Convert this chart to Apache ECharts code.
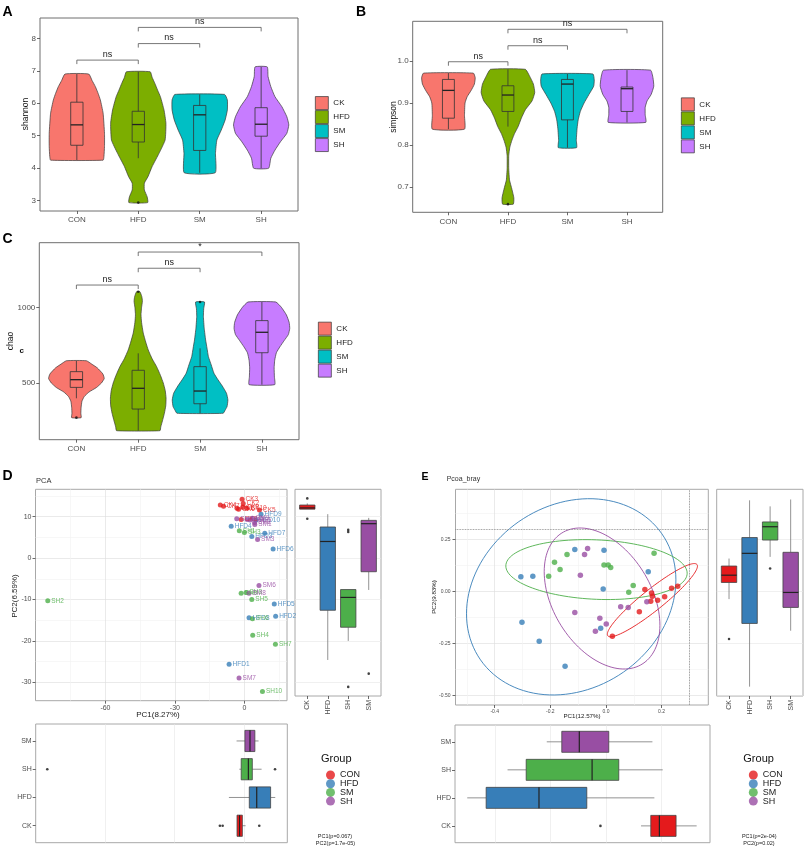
<!DOCTYPE html>
<html><head><meta charset="utf-8">
<script src="https://cdn.jsdelivr.net/npm/echarts@6/dist/echarts.min.js"></script>
<style>html,body{margin:0;padding:0;background:#fff}#c{width:805px;height:849px}</style>
</head><body><div id="c"></div>
<script>
const FONT = 'Liberation Sans, Arial, Helvetica, sans-serif';

// ---------- Panels A-C (violins) ----------
const violinCats = ['CON', 'HFD', 'SM', 'SH'];
const violinLegend = ['CK', 'HFD', 'SM', 'SH'];
const violinColors = ['#F8766D', '#7CAE00', '#00BFC4', '#C77CFF'];

// profiles: [value, relative half-width]
const shannonViolin = [
  [[6.90,0.43],[6.70,0.55],[6.51,0.67],[6.30,0.77],[6.10,0.85],[5.69,0.95],[5.07,1.0],[4.66,1.0],[4.35,0.98],[4.24,0.95]],
  [[6.97,0.43],[6.80,0.5],[6.61,0.6],[6.40,0.7],[6.20,0.8],[5.79,0.93],[5.38,1.0],[4.86,0.97],[4.45,0.75],[4.04,0.5],[3.73,0.35],[3.53,0.22],[3.32,0.22],[3.11,0.32],[2.93,0.34]],
  [[6.27,0.9],[6.10,1.0],[5.79,1.0],[5.48,0.92],[5.17,0.78],[4.86,0.62],[4.45,0.57],[3.85,0.56]],
  [[7.12,0.22],[6.82,0.25],[6.51,0.35],[6.20,0.5],[5.89,0.75],[5.58,0.93],[5.33,1.0],[5.07,0.93],[4.81,0.7],[4.55,0.5],[4.30,0.35],[3.99,0.27]]
];
const shannonBox = [[4.24,4.70,5.33,6.03,6.90],[4.30,4.80,5.34,5.75,6.97],[3.85,4.54,5.64,5.93,6.27],[3.99,4.98,5.35,5.86,7.12]];
const shannonOutliers = [[2, 2.93]];
const shannonSig = [[1,2,7.33,'ns'],[2,3,7.84,'ns'],[2,4,8.34,'ns']];
const shannonTicks = [3,4,5,6,7,8];

const simpsonViolin = [
  [[0.971,0.93],[0.960,1.0],[0.945,0.97],[0.930,0.85],[0.915,0.7],[0.900,0.62],[0.870,0.6],[0.838,0.6]],
  [[0.980,0.65],[0.965,0.8],[0.945,0.95],[0.925,1.0],[0.905,0.9],[0.884,0.65],[0.864,0.5],[0.844,0.38],[0.828,0.25],[0.812,0.15],[0.795,0.07],[0.775,0.03],[0.745,0.03],[0.717,0.06],[0.695,0.15],[0.675,0.22],[0.660,0.2]],
  [[0.969,0.95],[0.955,1.0],[0.940,0.98],[0.920,0.8],[0.900,0.62],[0.880,0.48],[0.860,0.4],[0.840,0.36],[0.812,0.33],[0.794,0.34]],
  [[0.978,0.88],[0.960,0.97],[0.940,1.0],[0.920,0.9],[0.905,0.75],[0.890,0.68],[0.872,0.68],[0.854,0.7]]
];
const simpsonBox = [[0.838,0.864,0.930,0.956,0.971],[0.844,0.880,0.919,0.941,0.980],[0.794,0.860,0.945,0.956,0.969],[0.854,0.880,0.934,0.938,0.978]];
const simpsonOutliers = [[2, 0.660]];
const simpsonSig = [[1,2,0.998,'ns'],[2,3,1.036,'ns'],[2,4,1.075,'ns']];
const simpsonTicks = [0.7,0.8,0.9,1.0];

const chaoViolin = [
  [[647,0.36],[625,0.55],[600,0.75],[560,0.95],[530,1.0],[500,0.9],[470,0.72],[440,0.45],[410,0.28],[380,0.2],[340,0.17],[300,0.16],[271,0.17]],
  [[1103,0.06],[1070,0.13],[1040,0.15],[1000,0.12],[950,0.1],[900,0.12],[830,0.18],[770,0.27],[718,0.36],[660,0.5],[608,0.66],[550,0.8],[500,0.9],[450,0.97],[400,1.0],[350,0.99],[300,0.94],[250,0.87],[210,0.81],[185,0.78]],
  [[1035,0.16],[990,0.13],[938,0.12],[860,0.15],[784,0.2],[730,0.25],[674,0.3],[620,0.4],[564,0.5],[520,0.65],[480,0.8],[432,0.95],[388,1.0],[344,0.97],[320,0.9],[300,0.83]],
  [[1035,0.5],[1000,0.7],[950,0.88],[900,0.98],[860,1.0],[820,0.95],[780,0.8],[740,0.65],[700,0.52],[650,0.46],[600,0.44],[540,0.45],[489,0.46]]
];
const chaoBox = [[399,471,522,575,647],[185,328,465,584,696],[300,363,447,608,729],[489,700,835,912,1035]];
const chaoOutliers = [[1,271],[2,1103],[3,1035]];
const chaoSig = [[1,2,1147,'ns'],[2,3,1258,'ns'],[2,4,1365,'*']];
const chaoTicks = [500,1000];

// ---------- Panel D (PCA) ----------
const groupNames = ['CON','HFD','SM','SH'];
const groupColors = ['#E41A1C','#377EB8','#4DAF4A','#984EA3'];
const pcaCON = [[-0.7,12.3,'CK9'],[-1.0,14.2,'CK3'],[-0.5,13.2,'CK2'],[-10.4,12.8,'CK4'],[-9.0,12.5,'CK7'],[-3.2,12.0,'CK1'],[-2.5,11.8,'CK6'],[1.1,12.0,'CK10'],[6.5,11.6,'CK5'],[-1.4,9.3,'CK8']];
const pcaHFD = [[7.2,10.6,'HFD9'],[-5.7,7.7,'HFD4'],[8.8,6.0,'HFD7'],[3.2,5.2,'HFD3'],[12.4,2.2,'HFD6'],[12.9,-11.1,'HFD5'],[13.5,-14.0,'HFD2'],[2.0,-14.4,'HFD8'],[-6.6,-25.6,'HFD1'],[5.0,9.2,'HFD10']];
const pcaSM = [[-84.9,-10.3,'SH2'],[3.6,-18.6,'SH4'],[3.2,-10.0,'SH5'],[13.4,-20.8,'SH7'],[7.8,-32.2,'SH10'],[3.5,-14.6,'SH6'],[-1.4,-8.5,'SH9'],[0.7,-8.3,'SH8'],[-2.2,6.6,'SH1'],[0.0,6.2,'SH3']];
const pcaSH = [[6.3,-6.6,'SM6'],[-2.3,-28.9,'SM7'],[5.7,4.5,'SM3'],[2.0,-8.5,'SM8'],[4.5,8.1,'SM1'],[4.4,8.6,'SM2'],[-3.3,9.5,'SM4'],[1.2,9.3,'SM5'],[3.4,9.6,'SM9'],[2.5,9.2,'SM10']];
const pcaXTicks = [-60,-30,0], pcaXMinor = [-75,-45,-15,15];
const pcaYTicks = [-30,-20,-10,0,10], pcaYMinor = [-25,-15,-5,5,15];

const boxCats = ['CK','HFD','SH','SM'];
const boxColors = ['#E41A1C','#377EB8','#4DAF4A','#984EA3'];
const pcaRightBox = [[11.8,11.8,12.1,12.8,13.2],[-24.6,-12.6,4.0,7.5,10.6],[-20.0,-16.7,-9.5,-7.6,-7.6],[-7.7,-3.3,8.3,9.1,9.7]];
const pcaRightOut = [[1,14.4],[1,9.5],[3,6.8],[3,6.3],[3,-31.1],[4,-27.9]];
const pcaBottomBox = [[-3.0,-3.0,-1.9,-0.7,0.7],[-6.5,2.3,5.5,11.5,13.5],[-2.0,-1.2,1.9,3.6,7.6],[-3.2,0.4,2.6,4.7,6.3]];
const pcaBottomOut = [[-10.4,1],[-9.2,1],[6.6,1],[-84.9,3],[13.4,3]];

// ---------- Panel E (PCoA) ----------
const pcoaCON = [[0.140,0.008],[0.164,-0.008],[0.167,-0.024],[0.161,-0.048],[0.186,-0.043],[0.211,-0.027],[0.236,0.014],[0.258,0.024],[0.120,-0.099],[0.023,-0.216]];
const pcoaHFD = [[-0.306,0.069],[-0.263,0.072],[-0.112,0.200],[-0.007,0.197],[-0.010,0.011],[0.152,0.094],[-0.302,-0.149],[-0.240,-0.240],[-0.147,-0.361],[-0.019,-0.178]];
const pcoaSM = [[-0.140,0.176],[-0.185,0.139],[-0.165,0.104],[-0.206,0.072],[-0.007,0.126],[0.008,0.126],[0.017,0.114],[0.173,0.182],[0.098,0.027],[0.082,-0.005]];
const pcoaSH = [[-0.066,0.205],[-0.077,0.176],[-0.092,0.077],[-0.112,-0.102],[0.053,-0.075],[0.080,-0.078],[0.147,-0.051],[-0.022,-0.130],[0.001,-0.158],[-0.038,-0.193]];
// ellipse: [cx, cy, half-extent x, half-extent y, correlation]
const pcoaEllipses = [[0.167,-0.043,0.162,0.176,0.93],[-0.125,-0.027,0.3765,0.4718,0.173],[-0.034,0.104,0.326,0.144,-0.122],[-0.014,-0.035,0.208,0.339,-0.38]];
const pcoaRefLines = {x:0.297, y:0.301};
const pcoaXTicks = [-0.4,-0.2,0,0.2], pcoaXMinor = [-0.5,-0.3,-0.1,0.1,0.3];
const pcoaYTicks = [-0.5,-0.25,0,0.25], pcoaYMinor = [-0.375,-0.125,0.125,0.375];
const pcoaRightBox = [[-0.038,0.042,0.077,0.121,0.157],[-0.459,-0.155,0.182,0.258,0.437],[0.165,0.246,0.310,0.333,0.408],[-0.190,-0.078,-0.006,0.187,0.441]];
const pcoaRightOut = [[1,-0.230],[3,0.109]];
const pcoaBottomBox = [[0.126,0.161,0.192,0.252,0.326],[-0.499,-0.431,-0.241,-0.069,0.174],[-0.354,-0.287,-0.050,0.046,0.204],[-0.213,-0.159,-0.096,0.010,0.167]];
const pcoaBottomOut = [[-0.020,1]];

// ---------- layout ----------
const grids = [
  {left:40, top:18, width:258, height:193},
  {left:412.7, top:21.3, width:250, height:191},
  {left:39.3, top:242.7, width:259.7, height:197},
  {left:35.5, top:489.3, width:251.5, height:211.4},
  {left:295, top:489.3, width:86, height:206.7},
  {left:35.7, top:724, width:251.6, height:118.7},
  {left:455.5, top:489.3, width:252.8, height:215.7},
  {left:716.7, top:489.3, width:86.3, height:206.7},
  {left:455, top:725, width:255, height:117.7}
].map((g,i)=>Object.assign({show:true, backgroundColor:'#fff', borderColor: i<3 ? '#6e6e6e' : '#a8a8a8', borderWidth:1, containLabel:false}, g));

function axis(o) {
  return {
    type:'value', gridIndex:o.g, min:o.min, max:o.max, show:true,
    position:o.pos,
    axisLine:{show:false, onZero:false},
    axisTick:{show:o.tick!==false, length:3, lineStyle:{color:'#444', width:0.8}, customValues:o.ticks},
    axisLabel:{show:o.label!==false, customValues:o.ticks, formatter:o.fmt || (v=>String(v)), fontSize:o.fs||8, color:'#4d4d4d',
               margin:o.margin==null?4:o.margin, fontFamily:FONT, rotate:o.rotate||0},
    splitLine:{show:!!o.split, lineStyle:{color:o.splitColor||'#e3e3e3', width:0.6}}
  };
}
const catFmt = arr => v => arr[Math.round(v)-1];
const cat4 = [1,2,3,4];

const xAxes = [
  axis({g:0, min:0.4, max:4.6, ticks:cat4, fmt:catFmt(violinCats), margin:5}),
  axis({g:1, min:0.4, max:4.6, ticks:cat4, fmt:catFmt(violinCats), margin:5}),
  axis({g:2, min:0.4, max:4.6, ticks:cat4, fmt:catFmt(violinCats), margin:5}),
  axis({g:3, min:-90.2, max:18.4, ticks:pcaXTicks, fs:7, margin:4, split:true, splitColor:'#dcdcdc'}),
  axis({g:4, min:0.4, max:4.6, ticks:cat4, fmt:catFmt(boxCats), fs:7, rotate:90, margin:4}),
  axis({g:5, min:-89.9, max:18.7, ticks:pcaXTicks, label:false, tick:false, split:true, splitColor:'#e6e6e6'}),
  axis({g:6, min:-0.541, max:0.368, ticks:pcoaXTicks, fs:5, margin:4, fmt:v=>v.toFixed(1), split:true, splitColor:'#dcdcdc'}),
  axis({g:7, min:0.4, max:4.6, ticks:cat4, fmt:catFmt(boxCats), fs:7, rotate:90, margin:4}),
  axis({g:8, min:-0.543, max:0.374, ticks:pcoaXTicks, label:false, tick:false, split:true, splitColor:'#e6e6e6'}),
  axis({g:3, min:-90.2, max:18.4, ticks:pcaXMinor, label:false, tick:false, split:true, splitColor:'#f1f1f1', pos:'top'}),
  axis({g:6, min:-0.541, max:0.368, ticks:pcoaXMinor, label:false, tick:false, split:true, splitColor:'#f1f1f1', pos:'top'})
];
const yAxes = [
  axis({g:0, min:2.67, max:8.63, ticks:shannonTicks, margin:4}),
  axis({g:1, min:0.6406, max:1.094, ticks:simpsonTicks, fmt:v=>v.toFixed(1), margin:4}),
  axis({g:2, min:125.5, max:1426.7, ticks:chaoTicks, margin:4}),
  axis({g:3, min:-34.4, max:16.6, ticks:pcaYTicks, fs:7, margin:4, split:true, splitColor:'#dcdcdc'}),
  axis({g:4, min:-33.3, max:16.6, ticks:pcaYTicks, label:false, tick:false, split:true, splitColor:'#e6e6e6'}),
  axis({g:5, min:0.4, max:4.6, ticks:cat4, fmt:catFmt(boxCats), fs:7, margin:4}),
  axis({g:6, min:-0.547, max:0.49, ticks:pcoaYTicks, fs:5, margin:5, fmt:v=>v.toFixed(2), split:true, splitColor:'#dcdcdc'}),
  axis({g:7, min:-0.504, max:0.49, ticks:pcoaYTicks, label:false, tick:false, split:true, splitColor:'#e6e6e6'}),
  axis({g:8, min:0.4, max:4.6, ticks:cat4, fmt:catFmt(boxCats), fs:7, margin:4}),
  axis({g:3, min:-34.4, max:16.6, ticks:pcaYMinor, label:false, tick:false, split:true, splitColor:'#f1f1f1', pos:'right'}),
  axis({g:6, min:-0.547, max:0.49, ticks:pcoaYMinor, label:false, tick:false, split:true, splitColor:'#f1f1f1', pos:'right'})
];

const series = [];

function boxSeries(ax, rows, horiz, hw, colors, st) {
  return {
    type:'custom', xAxisIndex:ax, yAxisIndex:ax, z:4, silent:true, clip:false,
    data: rows.map((r,i)=>[i+1].concat(r)),
    encode: horiz ? {x:[1,2,3,4,5], y:0} : {x:0, y:[1,2,3,4,5]},
    renderItem:(p, api) => {
      const pos=api.value(0), lo=api.value(1), q1=api.value(2), med=api.value(3), q3=api.value(4), hi=api.value(5);
      const c = (a,v) => horiz ? api.coord([v,a]) : api.coord([a,v]);
      const p1=c(pos-hw,q1), p2=c(pos+hw,q3);
      const m1=c(pos-hw,med), m2=c(pos+hw,med);
      const a1=c(pos,q3), a2=c(pos,hi), b1=c(pos,q1), b2=c(pos,lo);
      return {type:'group', children:[
        {type:'line', shape:{x1:a1[0],y1:a1[1],x2:a2[0],y2:a2[1]}, style:{stroke:st.whisker, lineWidth:st.lw}},
        {type:'line', shape:{x1:b1[0],y1:b1[1],x2:b2[0],y2:b2[1]}, style:{stroke:st.whisker, lineWidth:st.lw}},
        {type:'rect', shape:{x:Math.min(p1[0],p2[0]), y:Math.min(p1[1],p2[1]), width:Math.abs(p1[0]-p2[0]), height:Math.abs(p1[1]-p2[1])},
         style:{fill:colors?colors[p.dataIndex]:'rgba(0,0,0,0)', stroke:st.stroke, lineWidth:st.lw}},
        {type:'line', shape:{x1:m1[0],y1:m1[1],x2:m2[0],y2:m2[1]}, style:{stroke:st.med, lineWidth:st.mlw}}
      ]};
    }
  };
}
function outlierSeries(ax, pts, size) {
  return {type:'scatter', xAxisIndex:ax, yAxisIndex:ax, data:pts, symbolSize:size||2.6, silent:true, z:5,
          itemStyle:{color:'#111'}};
}
function sigSeries(ax, sig, fs) {
  return {
    type:'custom', xAxisIndex:ax, yAxisIndex:ax, silent:true, z:5, clip:false,
    data: sig.map(s=>[s[0], s[1], s[2]]), encode:{x:[0,1], y:2},
    renderItem:(p, api) => {
      const s = sig[p.dataIndex];
      const a = api.coord([s[0], s[2]]), b = api.coord([s[1], s[2]]);
      return {type:'group', children:[
        {type:'polyline', shape:{points:[[a[0],a[1]+4],a,b,[b[0],b[1]+4]]}, style:{stroke:'#555', lineWidth:0.8, fill:null}},
        {type:'text', x:(a[0]+b[0])/2, y:a[1]-1.2, style:{text:s[3], fontSize:fs, fill:'#222', align:'center', verticalAlign:'bottom', fontFamily:FONT}}
      ]};
    }
  };
}
function violinPanel(ax, profiles, boxes, outs, sig) {
  profiles.forEach((prof, i) => {
    series.push({
      type:'custom', name:'V-'+violinLegend[i], xAxisIndex:ax, yAxisIndex:ax, z:2, silent:true, clip:false,
      itemStyle:{color:violinColors[i]},
      data:[[i+1, prof[0][0]]], encode:{x:0, y:1},
      renderItem:(p, api) => {
        const pos=i+1, pts=[];
        prof.forEach(([v,w]) => pts.push(api.coord([pos+w*0.45, v])));
        for (let k=prof.length-1; k>=0; k--) pts.push(api.coord([pos-prof[k][1]*0.45, prof[k][0]]));
        return {type:'polygon', shape:{points:pts, smooth:0.15}, style:{fill:violinColors[i], stroke:'#3a3a3a', lineWidth:0.7}};
      }
    });
  });
  series.push(boxSeries(ax, boxes, false, 0.1, null, {whisker:'#333', stroke:'#333', med:'#222', lw:0.8, mlw:1.3}));
  series.push(outlierSeries(ax, outs, 2.6));
  series.push(sigSeries(ax, sig, 9));
}
violinPanel(0, shannonViolin, shannonBox, shannonOutliers, shannonSig);
violinPanel(1, simpsonViolin, simpsonBox, simpsonOutliers, simpsonSig);
violinPanel(2, chaoViolin, chaoBox, chaoOutliers, chaoSig);

// PCA scatter
[pcaCON, pcaHFD, pcaSM, pcaSH].forEach((arr, i) => {
  series.push({
    type:'scatter', name:'P-'+groupNames[i], xAxisIndex:3, yAxisIndex:3, symbolSize:5, z:3,
    itemStyle:{color:groupColors[i]},
    data: arr.map(d => ({value:[d[0], d[1]], name:d[2]})),
    label:{show:true, position:'right', distance:1, formatter:'{b}', fontSize:6.5, color:groupColors[i], fontFamily:FONT}
  });
});
const boxStyleP = {whisker:'#777', stroke:'#444', med:'#222', lw:0.8, mlw:1.2};
series.push(boxSeries(4, pcaRightBox, false, 0.375, boxColors, boxStyleP));
series.push(outlierSeries(4, pcaRightOut, 2.6));
series.push(boxSeries(5, pcaBottomBox, true, 0.375, boxColors, boxStyleP));
series.push(outlierSeries(5, pcaBottomOut, 2.6));

// PCoA
[pcoaCON, pcoaHFD, pcoaSM, pcoaSH].forEach((arr, i) => {
  const s = {
    type:'scatter', name:'P-'+groupNames[i], xAxisIndex:6, yAxisIndex:6, symbolSize:5.5, z:3,
    itemStyle:{color:groupColors[i]}, data:arr
  };
  if (i === 0) s.markLine = {silent:true, symbol:'none', label:{show:false}, animation:false,
    lineStyle:{type:'dotted', color:'#777', width:0.8}, data:[{yAxis:pcoaRefLines.y},{xAxis:pcoaRefLines.x}]};
  series.push(s);
});
series.push({
  type:'custom', xAxisIndex:6, yAxisIndex:6, silent:true, z:2, clip:true,
  data: pcoaEllipses.map(e=>[e[0], e[1]]), encode:{x:0, y:1},
  renderItem:(p, api) => {
    const [cx, cy, rx, ry, r] = pcoaEllipses[p.dataIndex];
    const pts = [];
    for (let k=0; k<=120; k++) {
      const t = 2*Math.PI*k/120;
      pts.push(api.coord([cx + rx*Math.cos(t), cy + ry*(r*Math.cos(t) + Math.sqrt(1-r*r)*Math.sin(t))]));
    }
    return {type:'polyline', shape:{points:pts}, style:{fill:null, stroke:groupColors[p.dataIndex], lineWidth:0.9}};
  }
});
series.push(boxSeries(7, pcoaRightBox, false, 0.375, boxColors, boxStyleP));
series.push(outlierSeries(7, pcoaRightOut, 2.6));
series.push(boxSeries(8, pcoaBottomBox, true, 0.375, boxColors, boxStyleP));
series.push(outlierSeries(8, pcoaBottomOut, 2.6));

// legends
const stripFmt = n => n.slice(2);
function violinLegendCfg(left, top) {
  return {left, top, orient:'vertical', selectedMode:false, icon:'rect', itemWidth:13, itemHeight:13, itemGap:0.3,
    itemStyle:{borderColor:'#333', borderWidth:0.7},
    formatter:stripFmt, textStyle:{fontSize:8, color:'#222', fontFamily:FONT, lineHeight:13},
    data: violinLegend.map(n=>'V-'+n)};
}
function groupLegendCfg(left, top) {
  return {left, top, orient:'vertical', selectedMode:false, icon:'circle', itemWidth:9, itemHeight:9, itemGap:-0.3,
    formatter:stripFmt, textStyle:{fontSize:9, color:'#222', fontFamily:FONT, lineHeight:9},
    data: groupNames.map(n=>'P-'+n)};
}

function txt(text, x, y, o) {
  o = o || {};
  return {type:'text', x, y, rotation:o.rot||0, silent:true, z:100,
    style:{text, fontSize:o.fs||8, fontWeight:o.bold?'bold':'normal', fill:o.color||'#111',
           align:o.align||'center', verticalAlign:'middle', fontFamily:FONT}};
}
const graphics = [
  txt('A', 7.5, 12, {fs:14, bold:true, color:'#000'}),
  txt('B', 361, 12.5, {fs:14, bold:true, color:'#000'}),
  txt('C', 7.5, 239, {fs:14, bold:true, color:'#000'}),
  txt('D', 7.5, 476, {fs:14, bold:true, color:'#000'}),
  txt('E', 425, 477, {fs:10.5, bold:true, color:'#000'}),
  txt('shannon', 25.7, 114, {fs:8.5, rot:Math.PI/2}),
  txt('simpson', 393.3, 117, {fs:8.5, rot:Math.PI/2}),
  txt('chao', 10.7, 341, {fs:8.5, rot:Math.PI/2}),
  txt('c', 21.7, 350.5, {fs:8, bold:true}),
  txt('PCA', 36, 480.7, {fs:7.5, align:'left', color:'#333'}),
  txt('Pcoa_bray', 446.7, 479.5, {fs:7, align:'left', color:'#333'}),
  txt('PC1(8.27%)', 158, 715, {fs:8, color:'#222'}),
  txt('PC2(6.59%)', 14.5, 596, {fs:8, rot:Math.PI/2, color:'#222'}),
  txt('PC1(12.57%)', 582, 716.3, {fs:6.2, color:'#222'}),
  txt('PC2(9.83%)', 434, 597, {fs:6.2, rot:Math.PI/2, color:'#222'}),
  txt('Group', 321, 759, {fs:11, align:'left', color:'#111'}),
  txt('Group', 743.3, 759, {fs:11, align:'left', color:'#111'}),
  txt('PC1(p=0.067)', 335, 836, {fs:5.5, color:'#222'}),
  txt('PC2(p=1.7e-05)', 335.5, 843.3, {fs:5.5, color:'#222'}),
  txt('PC1(p=2e-04)', 759.3, 836, {fs:5.5, color:'#222'}),
  txt('PC2(p=0.02)', 759, 843.3, {fs:5.5, color:'#222'})
];

const chart = echarts.init(document.getElementById('c'), null, {renderer:'canvas'});
chart.setOption({
  animation:false,
  backgroundColor:'#fff',
  textStyle:{fontFamily:FONT},
  grid:grids, xAxis:xAxes, yAxis:yAxes, series,
  legend:[violinLegendCfg(310, 91.2), violinLegendCfg(676, 92.5), violinLegendCfg(313, 316.8),
          groupLegendCfg(321, 765.5), groupLegendCfg(743.8, 765.5)],
  graphic:graphics
});
</script>
</body></html>
